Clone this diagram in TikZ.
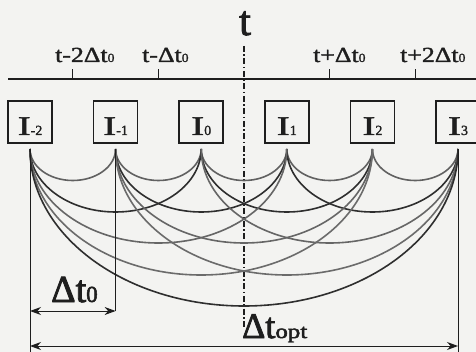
\documentclass[tikz,border=0pt]{standalone}
\usepackage{fontspec}
\usepackage{graphicx}
\setmainfont[FakeBold=1.4]{Liberation Serif}
\newfontfamily\heavyfont[FakeBold=2.2]{Liberation Serif}
\usetikzlibrary{arrows.meta}
\definecolor{ink}{HTML}{1E1E1E}
\definecolor{paper}{HTML}{F3F3F1}
\newcommand{\ticklab}[1]{{\fontsize{21.5}{21.5}\selectfont\scalebox{1.2}[1]{#1}}{\fontsize{12.5}{12.5}\selectfont\scalebox{1.1}[1]{0}}}
\newcommand{\boxlab}[1]{{\fontsize{27}{27}\selectfont\scalebox{1.45}[1]{I}}{\fontsize{14}{14}\selectfont #1}}
\begin{document}
\begin{tikzpicture}[x=1pt,y=1pt,
  ibox/.style={draw=ink, line width=1.5pt, minimum width=44pt, minimum height=42pt, inner sep=0pt},
  lab/.style={inner sep=0pt, text=ink},
  axisline/.style={draw=ink, line width=1.2pt},
  span1/.style={draw=black!62, line width=1.6pt},
  span2/.style={draw=black!82, line width=1.6pt},
  span3/.style={draw=black!60, line width=1.6pt},
  span4/.style={draw=black!58, line width=1.6pt},
  span5/.style={draw=black!82, line width=1.6pt},
  dim/.style={draw=ink, line width=1pt},
  dimarrow/.style={dim, {Stealth[length=11pt,width=8pt]}-{Stealth[length=11pt,width=8pt]}},
  dashdot/.style={draw=ink, line width=1.6pt, dash pattern=on 6pt off 2.5pt on 1.5pt off 2.5pt}
]
\fill[paper] (0,0) rectangle (476,-352);
\useasboundingbox (0,0) rectangle (476,-352);

% time axis
\coordinate (ax0) at (8,-79);
\coordinate (ax1) at (476,-79);
\draw[axisline] (ax0) -- (ax1);
\foreach \n/\x in {m2/72.8, m1/158.4, p1/329.6, p2/415.2}{
  \coordinate (tk\n) at (\x,-79);
  \coordinate (tt\n) at (\x,-69);
  \draw[axisline] (tk\n) -- (tt\n);
}
\node[lab, anchor=base west] (lm2) at (55,-62) {\ticklab{t-2Δt}};
\node[lab, anchor=base west] (lm1) at (142,-62) {\ticklab{t-Δt}};
\node[lab, anchor=base west] (lp1) at (313,-62) {\ticklab{t+Δt}};
\node[lab, anchor=base west] (lp2) at (400,-62) {\ticklab{t+2Δt}};

% centre line
\node[lab, anchor=base] (tt) at (245,-35) {\heavyfont\fontsize{42}{42}\selectfont t};
\coordinate (c0) at (244,-46);
\coordinate (c1) at (244,-328);
\draw[dashdot] (c0) -- (c1);

% boxes
\foreach \i/\x/\s in {0/30/-2, 1/115.6/-1, 2/201.2/0, 3/286.8/1, 4/372.4/2, 5/458/3}{
  \node[ibox] (b\i) at (\x,-122) {};
  \node[lab, anchor=base] (l\i) at (\x,-135) {\boxlab{\s}};
  \coordinate (p\i) at (\x,-149);
}

% arcs between all pairs
\foreach \i in {0,...,4}{
  \draw[span1] (p\i) arc[start angle=180, end angle=360, x radius=42.8, y radius=31.5];
}
\foreach \i in {0,...,3}{
  \draw[span2] (p\i) arc[start angle=180, end angle=360, x radius=85.6, y radius=63];
}
\foreach \i in {0,...,2}{
  \draw[span3] (p\i) arc[start angle=180, end angle=360, x radius=128.4, y radius=94];
}
\foreach \i in {0,...,1}{
  \draw[span4] (p\i) arc[start angle=180, end angle=360, x radius=171.2, y radius=126];
}
\draw[span5] (p0) arc[start angle=180, end angle=360, x radius=214, y radius=157];

% dimension lines
\coordinate (v0) at (30,-352);
\coordinate (v1) at (115.6,-311);
\coordinate (v5) at (458,-352);
\draw[dim] (p0) -- (v0);
\draw[dim] (p1) -- (v1);
\draw[dim] (p5) -- (v5);
\coordinate (q0) at (30,-311);
\draw[dimarrow] (q0) -- (v1);
\coordinate (r0) at (30,-346);
\coordinate (r5) at (458,-346);
\draw[dimarrow] (r0) -- (r5);
\node[lab, anchor=base west] (dt0) at (51,-302) {\heavyfont{\fontsize{38}{38}\selectfont Δt}{\fontsize{23}{23}\selectfont 0}};
\node[lab, anchor=base west] (dtopt) at (242,-338) {\heavyfont{\fontsize{36}{36}\selectfont Δt}{\fontsize{20}{20}\selectfont\scalebox{1.25}[1]{opt}}};
\end{tikzpicture}
\end{document}
